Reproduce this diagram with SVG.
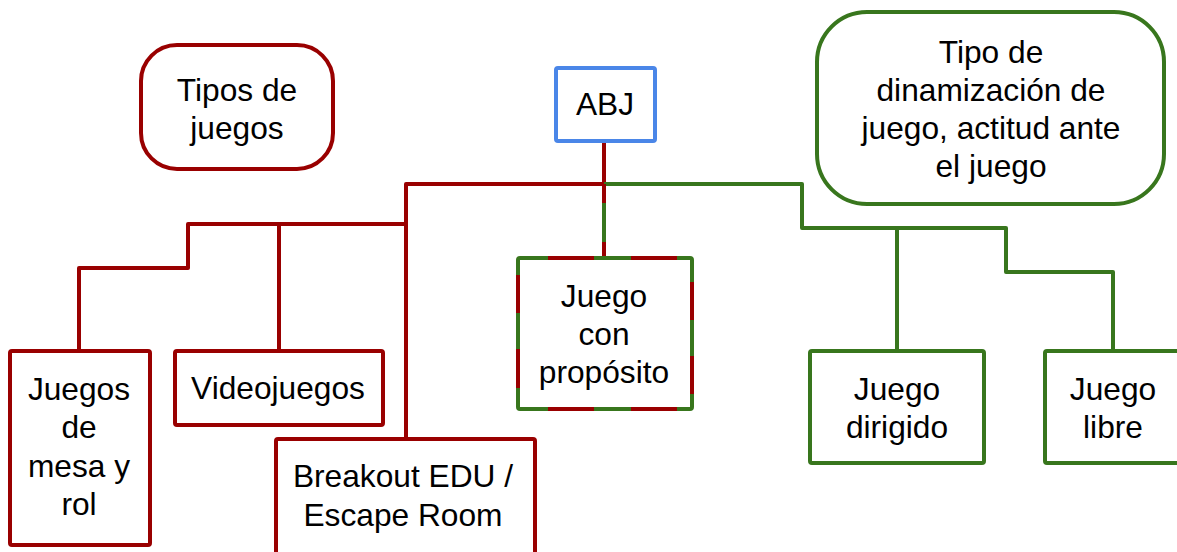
<svg xmlns="http://www.w3.org/2000/svg" width="1177" height="552" viewBox="0 0 1177 552">
  <style>
    .red { fill: #ffffff; stroke: #990000; stroke-width: 4; }
    .green { fill: #ffffff; stroke: #38761d; stroke-width: 4; }
    .blue { fill: #ffffff; stroke: #4a86e8; stroke-width: 4; }
    .lr { fill: none; stroke: #990000; stroke-width: 4; stroke-linejoin: round; }
    .lg { fill: none; stroke: #38761d; stroke-width: 4; stroke-linejoin: round; }
    text { font-family: "Liberation Sans", Arial, sans-serif; font-size: 31.7px; fill: #000000; text-anchor: middle; }
  </style>

  <g id="connectors">
    <!-- red branch: game types -->
    <path class="lr" d="M604,141 V184 H406 V437"/>
    <path class="lr" d="M406,224 H188 V268 H79 V351"/>
    <path class="lr" d="M279,224 V351"/>
    <!-- green branch: play dynamics -->
    <path class="lg" d="M604,184 H802 V228 H1006 V272 H1113 V351"/>
    <path class="lg" d="M897,228 V351"/>
    <!-- shared stem to the purpose node -->
    <path class="lr" d="M604,184 V258"/>
    <path class="lg" d="M604,203 V242"/>
  </g>

  <g id="abj">
    <rect class="blue" x="556" y="68" width="99" height="73" rx="2"/>
    <text x="605" y="115">ABJ</text>
  </g>

  <g id="tipos-de-juegos">
    <rect class="red" x="141" y="45" width="192" height="124" rx="36" ry="36"/>
    <text x="237" y="101">Tipos de</text>
    <text x="237" y="139">juegos</text>
  </g>

  <g id="tipo-de-dinamizacion">
    <rect class="green" x="817" y="12" width="347" height="192" rx="50" ry="50"/>
    <text x="991" y="63">Tipo de</text>
    <text x="991" y="101">dinamización de</text>
    <text x="991" y="139">juego, actitud ante</text>
    <text x="991" y="177">el juego</text>
  </g>

  <g id="juegos-de-mesa">
    <rect class="red" x="10" y="351" width="140" height="194" rx="2"/>
    <text x="79" y="400">Juegos</text>
    <text x="79" y="438">de</text>
    <text x="79" y="477">mesa y</text>
    <text x="79" y="515">rol</text>
  </g>

  <g id="videojuegos">
    <rect class="red" x="175" y="351" width="208" height="74" rx="2"/>
    <text x="278" y="399">Videojuegos</text>
  </g>

  <g id="breakout">
    <rect class="red" x="276" y="439" width="259" height="116" rx="2"/>
    <text x="403" y="487">Breakout EDU /</text>
    <text x="403" y="526">Escape Room</text>
  </g>

  <g id="juego-con-proposito">
    <rect class="green" x="518" y="258" width="174" height="151" rx="2"/>
    <!-- red dashes laid over the green outline, one side at a time -->
    <path class="lr" stroke-linejoin="miter" d="M518,258 H692" stroke-dasharray="0 30 46 37 46 37"/>
    <path class="lr" stroke-linejoin="miter" d="M518,409 H692" stroke-dasharray="0 30 46 37 46 37"/>
    <path class="lr" stroke-linejoin="miter" d="M518,258 V409" stroke-dasharray="0 17 38 36 39 40"/>
    <path class="lr" stroke-linejoin="miter" d="M692,258 V409" stroke-dasharray="0 24 38 36 38 40"/>
    <text x="604" y="307">Juego</text>
    <text x="604" y="345">con</text>
    <text x="604" y="383">propósito</text>
  </g>

  <g id="juego-dirigido">
    <rect class="green" x="810" y="351" width="174" height="112" rx="2"/>
    <text x="897" y="400">Juego</text>
    <text x="897" y="438">dirigido</text>
  </g>

  <g id="juego-libre">
    <rect class="green" x="1045" y="351" width="136" height="112" rx="2"/>
    <text x="1113" y="400">Juego</text>
    <text x="1113" y="438">libre</text>
  </g>
</svg>
